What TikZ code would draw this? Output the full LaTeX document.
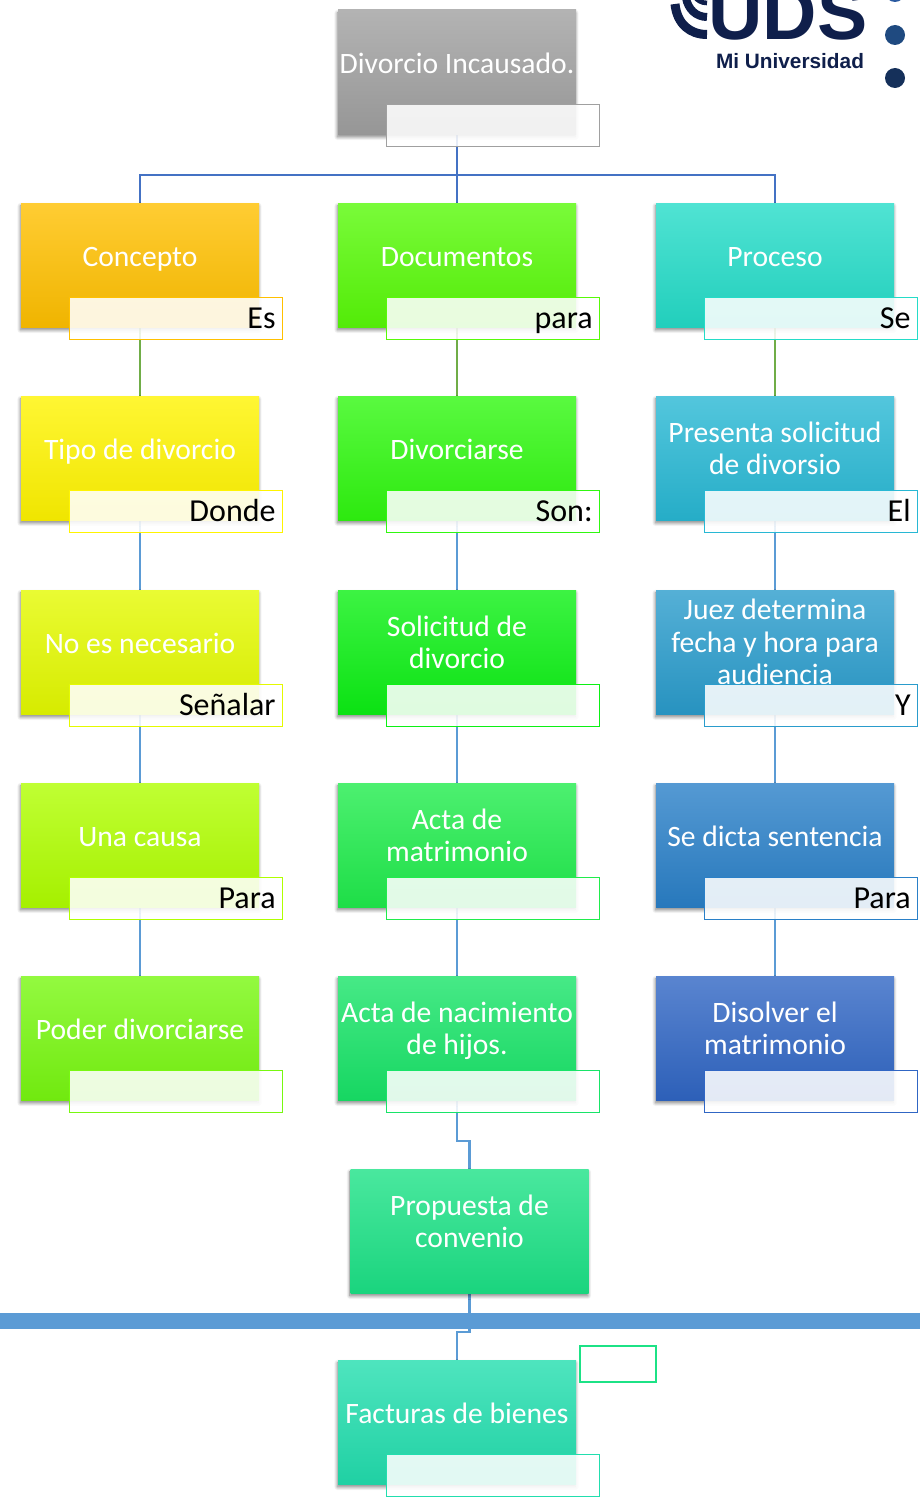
\documentclass[tikz,border=0pt]{standalone}
\usepackage{fontspec}
\usepackage{xcolor}
\setmainfont{Carlito}
\newfontfamily\logofont{Liberation Sans}[Scale=1]
\usetikzlibrary{shadows.blur,backgrounds}
\definecolor{c_gray}{HTML}{A0A0A0}
\definecolor{c_concepto}{HTML}{FFC000}
\definecolor{c_tipo}{HTML}{FFF400}
\definecolor{c_nonec}{HTML}{E4FA00}
\definecolor{c_causa}{HTML}{B0FF00}
\definecolor{c_poder}{HTML}{78F810}
\definecolor{c_docs}{HTML}{58FA08}
\definecolor{c_divor}{HTML}{30F810}
\definecolor{c_solic}{HTML}{0CF014}
\definecolor{c_matri}{HTML}{20EC4C}
\definecolor{c_hijos}{HTML}{18E468}
\definecolor{c_propu}{HTML}{1CE286}
\definecolor{c_factu}{HTML}{22DEAE}
\definecolor{c_proce}{HTML}{24DCC8}
\definecolor{c_prese}{HTML}{28B8D4}
\definecolor{c_juez}{HTML}{2A9CCC}
\definecolor{c_dicta}{HTML}{2A80C8}
\definecolor{c_disol}{HTML}{3066C4}
\definecolor{c_navy}{HTML}{0F1F4B}
\definecolor{c_dota}{HTML}{2A5AA0}
\definecolor{c_dotb}{HTML}{1F4A80}
\definecolor{c_dotc}{HTML}{15305A}
\definecolor{l_blue}{HTML}{4472C4}
\definecolor{l_sky}{HTML}{5B9BD5}
\definecolor{l_green}{HTML}{70AD47}
\tikzset{
  flowbox/.style={minimum width=178.5pt, minimum height=93pt, inner sep=0pt,
    top color=#1!80!white, middle color=#1, bottom color=#1!94!black,
    blur shadow={shadow xshift=-.4pt, shadow yshift=-2.2pt, shadow blur radius=2.5pt, shadow blur steps=10, shadow opacity=50}},
  flowtext/.style={text=white, align=center, inner sep=0pt, font=\fontsize{22.2}{24.4}\selectfont,
    execute at begin node=\strut, execute at end node=\strut},
  flowtag/.style={minimum width=159.75pt, minimum height=31.5pt, inner sep=0pt, draw=#1, line width=1pt,
    fill=white, fill opacity=.87, text opacity=1, text=black, text width=149.25pt, align=right,
    font=\fontsize{24}{24.4}\selectfont, execute at begin node={\rule[-5.7pt]{0pt}{25.7pt}}},
  link/.style={line width=2pt, draw=l_sky},
  logodot/.style={circle, fill=#1, minimum size=15pt, inner sep=0pt}
}
\begin{document}
\begin{tikzpicture}[x=.75pt,y=-.75pt]
\useasboundingbox (0,0) rectangle (920,1502);

% logo
\node[text=c_navy, anchor=base, inner sep=0pt, font=\logofont\bfseries\fontsize{56.5}{56.5}\selectfont] (uds) at (788,40) {UDS};
\node[text=c_navy, anchor=base, inner sep=0pt, font=\logofont\bfseries\fontsize{15.6}{15.6}\selectfont] (mi) at (790,69) {Mi Universidad};
\draw[c_navy, line width=6.75pt] (675,4) .. controls (677,24) and (690,34.5) .. (707,34.5);
\draw[c_navy, line width=6pt] (686,-2) .. controls (688,9) and (696,17) .. (707,17);
\draw[c_navy, line width=3.5pt] (695,-3) .. controls (697,0) and (701,3) .. (707,3);
\node[logodot=c_dota] (dot1) at (895,-8) {};
\node[logodot=c_dotb] (dot2) at (895,35) {};
\node[logodot=c_dotc] (dot3) at (895,78) {};

% boxes
\foreach \name/\x/\y/\col/\txt/\tag in {
  divorcio/457/72/c_gray/{Divorcio Incausado.}/{},
  concepto/140/265/c_concepto/Concepto/Es,
  tipo/140/458/c_tipo/Tipo de divorcio/Donde,
  nonec/140/652/c_nonec/No es necesario/Señalar,
  causa/140/845/c_causa/Una causa/Para,
  poder/140/1038/c_poder/Poder divorciarse/{},
  docs/457/265/c_docs/Documentos/para,
  divor/457/458/c_divor/Divorciarse/Son:,
  solic/457/652/c_solic/{Solicitud de\\divorcio}/{},
  matri/457/845/c_matri/{Acta de\\matrimonio}/{},
  hijos/457/1038/c_hijos/{Acta de nacimiento\\de hijos.}/{},
  proce/775/265/c_proce/Proceso/Se,
  prese/775/458/c_prese/{Presenta solicitud\\de divorsio}/El,
  juez/775/652/c_juez/{Juez determina\\fecha y hora para\\audiencia}/Y,
  dicta/775/845/c_dicta/Se dicta sentencia/Para,
  disol/775/1038/c_disol/{Disolver el\\matrimonio}/{},
  factu/457/1422/c_factu/Facturas de bienes/{}
}{
  \node[flowbox=\col] (\name) at (\x,\y) {};
  \node[flowtext] (\name_txt) at ([yshift=3.75pt]\name.center) {\txt};
  \node[flowtag=\col, anchor=south east] (\name_tag) at ([xshift=18pt,yshift=-9.75pt]\name.south east) {\tag};
}
\node[flowbox=c_propu] (propu) at (469.5,1231) {};
\node[flowtext] (propu_txt) at ([yshift=3.75pt]propu.center) {Propuesta de\\convenio};
\node[flowtag=c_propu, minimum width=57pt, minimum height=27pt, text width=50pt, fill opacity=0] (blank) at (618,1364) {};
\node[fill=l_sky, minimum width=690pt, minimum height=12pt, inner sep=0pt] (band) at (460,1321) {};

% connectors
\coordinate (bus) at (457,175);
\begin{scope}[on background layer]
\draw[link, draw=l_blue] (divorcio.south) -- (bus);
\draw[link, draw=l_blue] (bus) -| (concepto.north);
\draw[link, draw=l_blue] (bus) -- (docs.north);
\draw[link, draw=l_blue] (bus) -| (proce.north);
\foreach \a/\b in {concepto/tipo,docs/divor,proce/prese}
  \draw[link, draw=l_green] (\a.south) -- (\b.north);
\foreach \a/\b in {tipo/nonec,nonec/causa,causa/poder,divor/solic,solic/matri,matri/hijos,prese/juez,juez/dicta,dicta/disol}
  \draw[link] (\a.south) -- (\b.north);
\draw[link] (hijos.south) -- (457,1141) -| (propu.north);
\draw[link] (propu.south) -- (469.5,1332) -| (factu.north);
\end{scope}
\end{tikzpicture}
\end{document}
